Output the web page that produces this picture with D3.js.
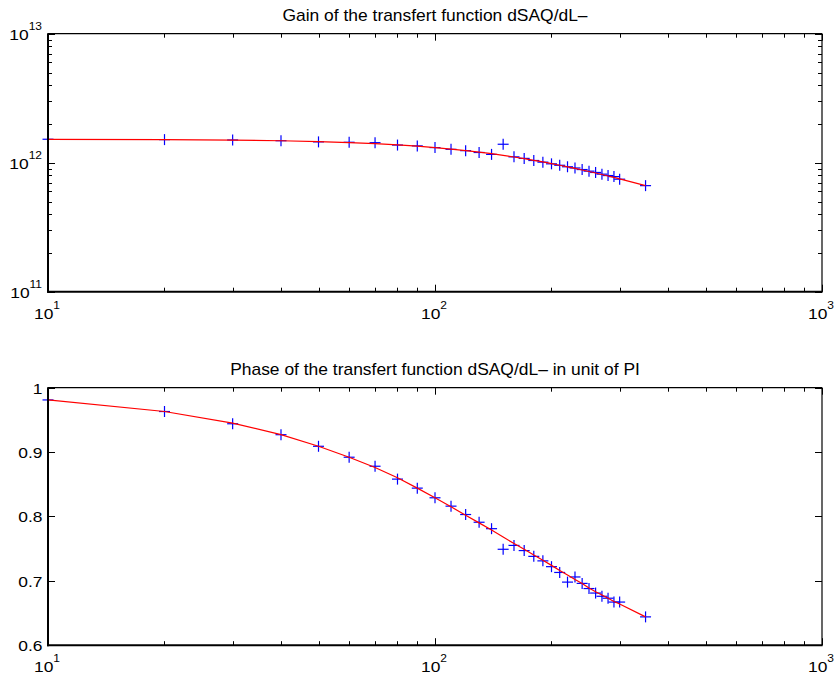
<!DOCTYPE html>
<html>
<head>
<meta charset="utf-8">
<script src="https://cdn.jsdelivr.net/npm/d3@7"></script>
<style>
  html, body { margin: 0; padding: 0; background: #fff; }
  svg { display: block; }
  text { font-family: "Liberation Sans", Arial, Helvetica, sans-serif; fill: #000; }
</style>
</head>
<body>
<script>
// Excitation frequencies
const freq = [10, 20, 30, 40, 50, 60, 70, 80, 90, 100, 110, 120, 130, 140, 150,
  160, 170, 180, 190, 200, 210, 220, 230, 240, 250, 260, 270, 280, 290, 300, 350];

// Measured gain (units of 1e12) and fitted model
const gainMeas = [1.52, 1.51, 1.50, 1.48, 1.45, 1.44, 1.43, 1.37, 1.35, 1.31, 1.27, 1.24,
  1.20, 1.16, 1.39, 1.11, 1.08, 1.04, 1.01, 0.98, 0.955, 0.93, 0.91, 0.885, 0.86, 0.84,
  0.815, 0.795, 0.78, 0.745, 0.664];
const gainFit = [1.517, 1.510, 1.497, 1.480, 1.458, 1.433, 1.405, 1.375, 1.343, 1.310,
  1.276, 1.242, 1.208, 1.174, 1.140, 1.107, 1.075, 1.044, 1.014, 0.984, 0.956, 0.929,
  0.903, 0.878, 0.855, 0.832, 0.810, 0.789, 0.769, 0.750, 0.664];

// Measured phase (units of PI) and fitted model
const phaseMeas = [0.981, 0.963, 0.944, 0.927, 0.909, 0.892, 0.878, 0.858, 0.844, 0.829,
  0.816, 0.803, 0.791, 0.781, 0.749, 0.755, 0.747, 0.738, 0.731, 0.722, 0.713, 0.698,
  0.706, 0.696, 0.688, 0.681, 0.676, 0.673, 0.667, 0.667, 0.644];
const phaseFit = [0.981, 0.963, 0.945, 0.927, 0.909, 0.892, 0.876, 0.860, 0.844, 0.829,
  0.815, 0.802, 0.790, 0.779, 0.768, 0.758, 0.749, 0.740, 0.732, 0.724, 0.716, 0.709,
  0.702, 0.696, 0.689, 0.683, 0.678, 0.673, 0.668, 0.664, 0.644];

// Axis tick labels
const xMajor = [10, 100, 1000];
const xExp = ["1", "2", "3"];
const gainMajor = [1e11, 1e12, 1e13];
const gainExp = ["11", "12", "13"];
const phaseTicks = [0.6, 0.7, 0.8, 0.9, 1.0];
const phaseTickLabels = ["0.6", "0.7", "0.8", "0.9", "1"];

const titles = ["Gain of the transfert function dSAQ/dL\u2013",
  "Phase of the transfert function dSAQ/dL\u2013 in unit of PI"];

const W = 838, H = 679;
const svg = d3.select("body").append("svg").attr("width", W).attr("height", H);
svg.append("rect").attr("width", W).attr("height", H).attr("fill", "#fff");

const left = 48, right = 822;
const x = d3.scaleLog().domain([10, 1000]).range([left, right]);

const TICK_SX = 1.2, TITLE_SX = 1.09;

function minorLog(lo, hi) {
  const out = [];
  for (let d = lo; d < hi; d *= 10) for (let k = 2; k <= 9; k++) out.push(d * k);
  return out;
}

function panel(top, bottom, title) {
  // ticks (inward, on all four sides)
  const tk = svg.append("g").attr("stroke", "#000").attr("stroke-width", 1).attr("fill", "none");
  xMajor.forEach(v => {
    const px = Math.round(x(v)) + 0.5;
    tk.append("line").attr("x1", px).attr("x2", px).attr("y1", bottom).attr("y2", bottom - 7);
    tk.append("line").attr("x1", px).attr("x2", px).attr("y1", top).attr("y2", top + 7);
  });
  minorLog(10, 1000).forEach(v => {
    const px = Math.round(x(v)) + 0.5;
    tk.append("line").attr("x1", px).attr("x2", px).attr("y1", bottom).attr("y2", bottom - 4);
    tk.append("line").attr("x1", px).attr("x2", px).attr("y1", top).attr("y2", top + 4);
  });
  // title
  svg.append("text")
    .attr("transform", `translate(${(left + right) / 2},${top - 13}) scale(${TITLE_SX},1)`)
    .attr("text-anchor", "middle").attr("font-size", 16).text(title);
  // x tick labels 10^n
  xMajor.forEach((v, i) => {
    const t = svg.append("text")
      .attr("transform", `translate(${x(v) - 1},${bottom + 27}) scale(${TICK_SX},1)`)
      .attr("text-anchor", "middle").attr("font-size", 14.5);
    t.append("tspan").text("10");
    t.append("tspan").attr("dy", -10).attr("font-size", 10).text(xExp[i]);
  });
  return tk;
}

function frame(top, bottom) {
  const f = svg.append("g").attr("fill", "none").attr("stroke", "#000");
  f.append("line").attr("x1", left).attr("x2", right).attr("y1", top).attr("y2", top).attr("stroke-width", 1.2);
  f.append("line").attr("x1", right).attr("x2", right).attr("y1", top).attr("y2", bottom).attr("stroke-width", 1.2);
  f.append("line").attr("x1", left).attr("x2", left).attr("y1", top - 0.5).attr("y2", bottom + 1).attr("stroke-width", 2);
  f.append("line").attr("x1", left - 1).attr("x2", right + 0.6).attr("y1", bottom).attr("y2", bottom).attr("stroke-width", 2);
}

function drawSeries(y, meas, fit) {
  // measurement crosses
  const m = svg.append("g").attr("stroke", "#0000ff").attr("stroke-width", 1.2);
  freq.forEach((f, i) => {
    const cx = x(f), cy = y(meas[i]);
    m.append("line").attr("x1", cx - 5.5).attr("x2", cx + 5.5).attr("y1", cy).attr("y2", cy);
    m.append("line").attr("x1", cx).attr("x2", cx).attr("y1", cy - 5.5).attr("y2", cy + 5.5);
  });
  // fitted model
  const line = d3.line().x((d, i) => x(freq[i])).y(d => y(d));
  svg.append("path").datum(fit).attr("d", line)
    .attr("fill", "none").attr("stroke", "#ff0000").attr("stroke-width", 1.2);
}

// ---------- Gain panel ----------
const gTop = 33.7, gBot = 291.7;
const yGain = d3.scaleLog().domain([1e11, 1e13]).range([gBot, gTop]);
const tk1 = panel(gTop, gBot, titles[0]);
gainMajor.forEach((v, i) => {
  const py = Math.round(yGain(v)) + 0.5;
  tk1.append("line").attr("x1", left).attr("x2", left + 7).attr("y1", py).attr("y2", py);
  tk1.append("line").attr("x1", right).attr("x2", right - 7).attr("y1", py).attr("y2", py);
  const t = svg.append("text")
    .attr("transform", `translate(42,${yGain(v) + 6}) scale(${TICK_SX},1)`)
    .attr("text-anchor", "end").attr("font-size", 14.5);
  t.append("tspan").text("10");
  t.append("tspan").attr("dy", -10).attr("font-size", 10).text(gainExp[i]);
});
minorLog(1e11, 1e13).forEach(v => {
  const py = Math.round(yGain(v)) + 0.5;
  tk1.append("line").attr("x1", left).attr("x2", left + 4).attr("y1", py).attr("y2", py);
  tk1.append("line").attr("x1", right).attr("x2", right - 4).attr("y1", py).attr("y2", py);
});
drawSeries(yGain, gainMeas.map(v => v * 1e12), gainFit.map(v => v * 1e12));
frame(gTop, gBot);

// ---------- Phase panel ----------
const pTop = 387.7, pBot = 645.2;
const yPhase = d3.scaleLinear().domain([0.6, 1.0]).range([pBot, pTop]);
const tk2 = panel(pTop, pBot, titles[1]);
phaseTicks.forEach((v, i) => {
  const py = Math.round(yPhase(v)) + 0.5;
  tk2.append("line").attr("x1", left).attr("x2", left + 7).attr("y1", py).attr("y2", py);
  tk2.append("line").attr("x1", right).attr("x2", right - 7).attr("y1", py).attr("y2", py);
  svg.append("text")
    .attr("transform", `translate(42.5,${yPhase(v) + 6}) scale(${TICK_SX},1)`)
    .attr("text-anchor", "end").attr("font-size", 14.5).text(phaseTickLabels[i]);
});
drawSeries(yPhase, phaseMeas, phaseFit);
frame(pTop, pBot);
</script>
</body>
</html>
